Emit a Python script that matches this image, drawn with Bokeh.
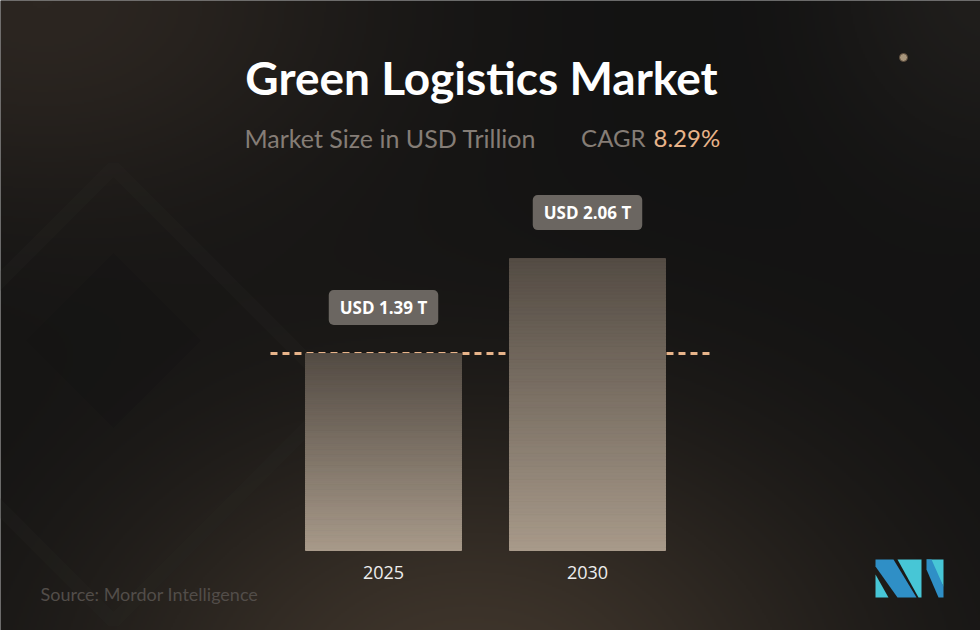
import numpy as np
from bokeh.plotting import figure
from bokeh.models import Range1d
from bokeh.embed import file_html
from bokeh.resources import INLINE
from bokeh.core.properties import value

# ---------------- data ----------------
years = [2025, 2030]
year_labels = ["2025", "2030"]
market_size = [1.39, 2.06]
value_labels = ["USD 1.39 T", "USD 2.06 T"]
title_text = "Green Logistics Market"
subtitle_text = "Market Size in USD Trillion"
cagr_label = "CAGR"
cagr_value = "8.29%"
source_text = "Source: Mordor Intelligence"

# ---------------- layout ----------------
W, H = 980, 630
PX_PER_YEAR = 40.8
FIRST_X_PX = 383
PX_PER_UNIT = 141.7
BASE_PX = 80
BAR_W = 156 / PX_PER_YEAR

x_start = years[0] - FIRST_X_PX / PX_PER_YEAR
x_end = x_start + W / PX_PER_YEAR
y_start = -BASE_PX / PX_PER_UNIT
y_end = y_start + H / PX_PER_UNIT

p = figure(width=W, height=H, x_range=Range1d(x_start, x_end),
           y_range=Range1d(y_start, y_end), output_backend="svg",
           toolbar_location=None, min_border=0,
           x_axis_location=None, y_axis_location=None)
p.grid.visible = False
p.outline_line_color = None
p.background_fill_color = "#121212"
p.border_fill_color = "#121212"
p.extra_x_ranges = {"px": Range1d(0, W)}
p.extra_y_ranges = {"py": Range1d(0, H)}


def Y(t):
    return H - t


# ---------------- background ----------------
gh, gw = 315, 490
yy, xx = np.mgrid[0:gh, 0:gw].astype(float)
yy *= H / gh
xx *= W / gw


def glow(cx, cy, rx, ry, col):
    d2 = ((xx - cx) / rx) ** 2 + ((yy - cy) / ry) ** 2
    return np.exp(-d2)[..., None] * np.array(col, dtype=float)


rgb = np.full((gh, gw, 3), 18.0)
rgb += glow(470, 700, 380, 280, [46, 36, 26])
rgb += glow(40, 0, 340, 220, [26, 20, 15])
rgb += glow(990, -20, 170, 190, [14, 12, 10])
rgb = np.clip(rgb, 0, 255).astype(np.uint8)[::-1]
rgba = np.empty((gh, gw, 4), dtype=np.uint8)
rgba[..., :3] = rgb
rgba[..., 3] = 255
img = rgba.view(dtype=np.uint32).reshape((gh, gw))
p.image_rgba(image=[img], x=x_start, y=y_start, dw=x_end - x_start, dh=y_end - y_start)

# faint diamonds on left
p.patch(x=[113, 200, 113, 26], y=[Y(253), Y(340), Y(427), Y(340)],
        x_range_name="px", y_range_name="py",
        fill_color="#0e0e0e", fill_alpha=0.18, line_color=None)
p.patch(x=[113, 340, 113, -114], y=[Y(167), Y(394), Y(621), Y(394)],
        x_range_name="px", y_range_name="py",
        fill_color=None, line_color="#2a2724", line_alpha=0.22, line_width=14)

# small dot
p.scatter(x=[903], y=[Y(57)], size=8, x_range_name="px", y_range_name="py",
          fill_color="#a8967c", line_color="#5a4a3a", line_width=1)

# ---------------- dashed reference line (2025 level) ----------------
p.segment(x0=[years[0] - 2.77], x1=[years[1] + 3.0],
          y0=[market_size[0]], y1=[market_size[0]],
          line_color="#e8b48a", line_width=3, line_dash="7 5")

# ---------------- gradient bars ----------------
N = 90
top_rgb = np.array([84, 76, 68])
bot_rgb = np.array([168, 154, 138])
L, R, B, T, C = [], [], [], [], []
for yr, v in zip(years, market_size):
    for i in range(N):
        f = (i + 0.5) / N
        c = bot_rgb + (top_rgb - bot_rgb) * f
        L.append(yr - BAR_W / 2)
        R.append(yr + BAR_W / 2)
        B.append(v * i / N)
        T.append(v * (i + 1) / N)
        C.append("#%02x%02x%02x" % tuple(int(round(k)) for k in c))
p.quad(left=L, right=R, bottom=B, top=T, fill_color=C, line_color=C, line_width=1)

# ---------------- value labels ----------------
p.text(x=years, y=market_size, text=value_labels, y_offset=-46,
       text_align="center", text_baseline="middle", text_color="white",
       text_font=value("Open Sans"), text_font_style="bold", text_font_size="17px",
       background_fill_color="#6b6661", border_radius=5,
       padding=dict(left=11, right=11, top=6, bottom=6))

# ---------------- year labels ----------------
p.text(x=years, y=[0, 0], text=year_labels, y_offset=22,
       text_align="center", text_baseline="middle", text_color="#eeeeee",
       text_font=value("Open Sans"), text_font_size="18px")

# ---------------- titles ----------------
p.text(x=[481], y=[Y(77)], text=[title_text], x_range_name="px", y_range_name="py",
       text_align="center", text_baseline="alphabetic", text_color="white",
       text_font=value("Lato"), text_font_style="bold", text_font_size="46px")
p.text(x=[244], y=[Y(137)], text=[subtitle_text], x_range_name="px", y_range_name="py",
       text_align="left", text_baseline="alphabetic", text_color="#857d76",
       text_font=value("Lato"), text_font_size="25px")
p.text(x=[645], y=[Y(137)], text=[cagr_label], x_range_name="px", y_range_name="py",
       text_align="right", text_baseline="alphabetic", text_color="#857d76",
       text_font=value("Lato"), text_font_size="24px")
p.text(x=[653], y=[Y(137)], text=[cagr_value], x_range_name="px", y_range_name="py",
       text_align="left", text_baseline="alphabetic", text_color="#e8b48a",
       text_font=value("Lato"), text_font_size="24px")
p.text(x=[40], y=[Y(593)], text=[source_text], x_range_name="px", y_range_name="py",
       text_align="left", text_baseline="alphabetic", text_color="#524d49",
       text_font=value("Lato"), text_font_size="18px")

# ---------------- logo ----------------
cyan = "#47c6d6"
blue = "#2f8fc6"
logo_x = [
    [875, 875, 888],
    [875, 893, 916, 897, 875],
    [897, 921, 921, 918],
    [926, 943, 943],
    [926, 931, 943, 943, 938, 926],
]
logo_y = [
    [574, 597, 597],
    [559, 559, 597, 597, 566],
    [559, 559, 597, 597],
    [559, 559, 586],
    [559, 559, 586, 597, 597, 569],
]
logo_c = [cyan, blue, cyan, cyan, blue]
p.patches(xs=logo_x, ys=[[Y(v) for v in ys] for ys in logo_y], x_range_name="px",
          y_range_name="py", fill_color=logo_c, line_color=None)

open("out.html", "w").write(file_html(p, INLINE))
